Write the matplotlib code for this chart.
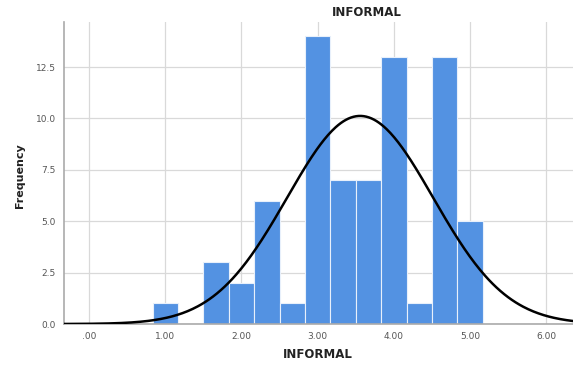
import numpy as np
import matplotlib.pyplot as plt

# histogram bins (width 1/3) and counts
bin_edges = [0.8333, 1.1667, 1.5, 1.8333, 2.1667, 2.5, 2.8333, 3.1667,
             3.5, 3.8333, 4.1667, 4.5, 4.8333, 5.1667]
counts = [1, 0, 3, 2, 6, 1, 14, 7, 7, 13, 1, 13, 5]
x_ticks = [0, 1, 2, 3, 4, 5, 6]
x_labels = [".00", "1.00", "2.00", "3.00", "4.00", "5.00", "6.00"]
y_ticks = [0, 2.5, 5.0, 7.5, 10.0, 12.5]
y_labels = ["0.0", "2.5", "5.0", "7.5", "10.0", "12.5"]

edges = np.array(bin_edges)
cnt = np.array(counts)
centers = (edges[:-1] + edges[1:]) / 2
widths = np.diff(edges)

# normal curve fitted to the binned data
n = cnt.sum()
mean = np.sum(cnt * centers) / n
std = np.sqrt(np.sum(cnt * (centers - mean) ** 2) / (n - 1))
bw = widths.mean()

fig = plt.figure(figsize=(5.73, 3.65), dpi=100)
ax = fig.add_axes([0.1117, 0.1123, 0.8883, 0.8274])

ax.bar(edges[:-1], cnt, width=widths, align='edge', color='#5392e2',
       edgecolor='#e8f0fb', linewidth=0.8, zorder=2)

xs = np.linspace(-0.33, 6.35, 400)
ys = n * bw / (std * np.sqrt(2 * np.pi)) * np.exp(-0.5 * ((xs - mean) / std) ** 2)
ax.plot(xs, ys, color='black', linewidth=1.8, zorder=3)

ax.set_xlim(-0.328, 6.35)
ax.set_ylim(0, 14.69)
ax.set_xticks(x_ticks)
ax.set_xticklabels(x_labels)
ax.set_yticks(y_ticks)
ax.set_yticklabels(y_labels)
ax.tick_params(length=0, labelsize=6.5, labelcolor='#555555', pad=6)
ax.grid(True, color='#d9d9d9', linewidth=0.9, zorder=0)
ax.set_axisbelow(True)
for side in ['top', 'right']:
    ax.spines[side].set_visible(False)
for side in ['left', 'bottom']:
    ax.spines[side].set_color('#aaaaaa')
    ax.spines[side].set_linewidth(1.2)

fig.text(0.64, 0.967, "INFORMAL", ha='center', va='center', fontsize=8.5,
         fontweight='bold', color='#222222')
fig.text(0.555, 0.03, "INFORMAL", ha='center', va='center', fontsize=8.5,
         fontweight='bold', color='#222222')
fig.text(0.035, 0.52, "Frequency", ha='center', va='center', rotation=90,
         fontsize=8, fontweight='bold', color='#222222')

fig.savefig("out.png", dpi=100)
